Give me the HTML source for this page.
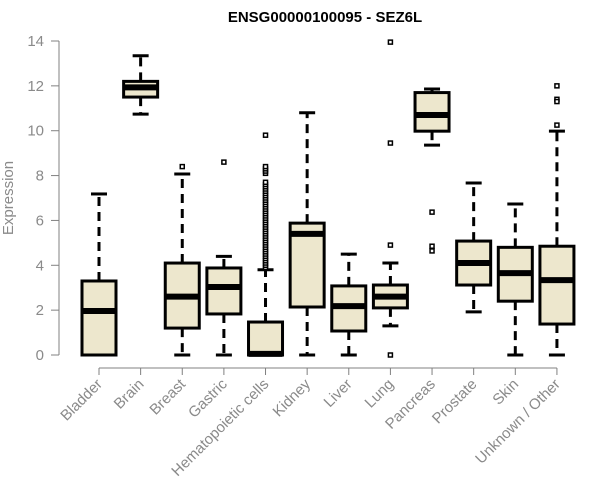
<!DOCTYPE html>
<html><head><meta charset="utf-8"><style>
html,body{margin:0;padding:0;background:#fff;}
svg{display:block;font-family:"Liberation Sans",Arial,sans-serif;}
</style></head><body>
<svg id="chart" width="600" height="500" viewBox="0 0 600 500">
<text x="325" y="22" text-anchor="middle" font-weight="bold" font-size="15" fill="#000">ENSG00000100095 - SEZ6L</text>
<text transform="translate(13,198) rotate(-90)" text-anchor="middle" font-size="15" fill="#8a8a8a">Expression</text>
<g id="yaxis"></g>
<g id="xaxis"></g>
<g id="boxes"></g>
</svg>
<script>
const categories=["Bladder","Brain","Breast","Gastric","Hematopoietic cells","Kidney","Liver","Lung","Pancreas","Prostate","Skin","Unknown / Other"];
const mins=[0,10.74,0,0,0,0,0,1.3,9.36,1.92,0,0];
const q1s=[0,11.5,1.2,1.83,0,2.14,1.07,2.1,9.98,3.12,2.4,1.38];
const medians=[1.96,11.93,2.6,3.03,0.05,5.4,2.18,2.6,10.7,4.1,3.65,3.34];
const q3s=[3.3,12.2,4.1,3.88,1.47,5.88,3.08,3.12,11.7,5.08,4.8,4.85];
const maxs=[7.18,13.34,8.07,4.4,3.8,10.8,4.5,4.1,11.86,7.67,6.73,9.98];
const outliers=[[],[],[8.4],[8.6],[3.9,4.0,4.1,4.2,4.3,4.4,4.5,4.6,4.7,4.8,4.9,5.0,5.1,5.2,5.3,5.4,5.5,5.6,5.7,5.8,5.9,6.0,6.1,6.2,6.3,6.4,6.5,6.6,6.7,6.8,6.9,7.0,7.1,7.2,7.3,7.4,7.5,7.6,7.7,8.1,8.2,8.3,8.4,9.8],[],[],[13.95,9.45,4.9,0],[6.37,4.85,4.64],[],[],[12.0,11.4,11.3,10.25]];
const yTicks=[0,2,4,6,8,10,12,14];
const NS="http://www.w3.org/2000/svg";
const y=v=>355-v*(314/14);
const x=i=>99+i*41.63;
const HW=17;
function mk(tag,attrs,parent){const e=document.createElementNS(NS,tag);for(const k in attrs)e.setAttribute(k,attrs[k]);parent.appendChild(e);return e;}
const ya=document.getElementById('yaxis');
mk('line',{x1:59,y1:y(0),x2:59,y2:y(14),stroke:'#808080','stroke-width':1},ya);
yTicks.forEach(t=>{
 const l=mk('line',{x1:51,y1:y(t),x2:59,y2:y(t),stroke:'#808080'},ya);
 
 
 const tx=mk('text',{x:44,y:y(t)+5,'text-anchor':'end','font-size':15,fill:'#8a8a8a'},ya);
 tx.textContent=t;
 
 
});
const xa=document.getElementById('xaxis');
mk('line',{x1:x(0),y1:368,x2:x(categories.length-1),y2:368,stroke:'#808080'},xa);
categories.forEach((c,i)=>{
 const l=mk('line',{x1:x(i),y1:368,x2:x(i),y2:375,stroke:'#808080'},xa);
 
 
 const tx=mk('text',{transform:`translate(${x(i)+4},${385}) rotate(-45)`,'text-anchor':'end','font-size':15,fill:'#8a8a8a'},xa);
 tx.textContent=c;
 
 
});
const bx=document.getElementById('boxes');
categories.forEach((c,i)=>{
 const g=mk('g',{},bx);
 
 
 const cx=x(i);
 mk('line',{x1:cx,y1:y(q3s[i]),x2:cx,y2:y(maxs[i]),stroke:'#000','stroke-width':3,'stroke-dasharray':'9,6'},g);
 mk('line',{x1:cx,y1:y(q1s[i]),x2:cx,y2:y(mins[i]),stroke:'#000','stroke-width':3,'stroke-dasharray':'9,6'},g);
 mk('line',{x1:cx-8,y1:y(maxs[i]),x2:cx+8,y2:y(maxs[i]),stroke:'#000','stroke-width':3},g);
 mk('line',{x1:cx-8,y1:y(mins[i]),x2:cx+8,y2:y(mins[i]),stroke:'#000','stroke-width':3},g);
 mk('rect',{x:cx-HW,y:y(q3s[i]),width:2*HW,height:Math.max(0,y(q1s[i])-y(q3s[i])),fill:'#ede7cd',stroke:'#000','stroke-width':3},g);
 mk('line',{x1:cx-HW,y1:y(medians[i]),x2:cx+HW,y2:y(medians[i]),stroke:'#000','stroke-width':6},g);
 outliers[i].forEach(o=>{
  const p=mk('rect',{x:cx-2,y:y(o)-2,width:4,height:4,fill:'#fff',stroke:'#000','stroke-width':1.5},g);
  
  
 });
});
</script>
</body></html>
